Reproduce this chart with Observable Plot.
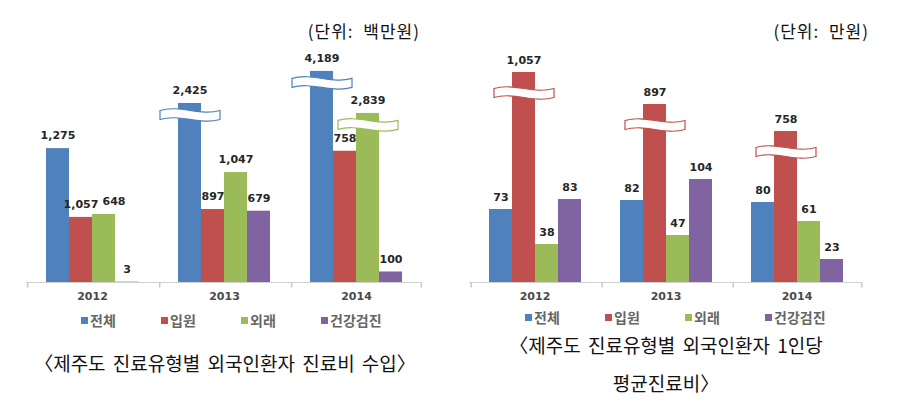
<!DOCTYPE html>
<html><head><meta charset="utf-8">
<script src="https://cdn.jsdelivr.net/npm/d3@7"></script>
<script src="https://cdn.jsdelivr.net/npm/@observablehq/plot@0.6"></script>
<style>
body{margin:0;background:#fff;}
#wrap{position:relative;width:899px;height:408px;overflow:hidden;font-family:"Noto Sans CJK KR",sans-serif;background:#fff;}
.panel{position:absolute;top:0;}
.unit{position:absolute;font-size:17px;line-height:20px;color:#111;white-space:nowrap;text-align:right;word-spacing:5px;letter-spacing:1px;}
.cap{position:absolute;font-size:19px;color:#111;text-align:center;white-space:nowrap;word-spacing:3px;}
.leg{position:absolute;}
#wrap .lg-swatches{font-family:"Noto Sans CJK KR",sans-serif;margin:0;}
#wrap .lg-swatches-wrap{display:flex;flex-wrap:nowrap;min-height:0;align-items:center;}
#wrap .lg-swatch{width:80px;margin:0;font-size:14px;font-weight:bold;color:#666;flex:none;}
#wrap .lg-swatch > svg{margin-right:2px;}
</style></head><body><div id="wrap"></div>
<script>
// ---- shared categories ----
const years = ["2012", "2013", "2014"];
const types = ["전체", "입원", "외래", "건강검진"];
const colors = ["#4F81BD", "#C0504D", "#9BBB59", "#8064A2"];

// ---- left: 진료비 수입 (단위: 백만원) — printed values ----
const revTotal = [1275, 2425, 4189];
const revInpatient = [1057, 897, 758];
const revOutpatient = [648, 1047, 2839];
const revCheckup = [3, 679, 100];
// bar lengths as drawn on the (broken) axis
const revTotalDrawn = [1275, 1705, 2010];
const revInpatientDrawn = [620, 695, 1250];
const revOutpatientDrawn = [648, 1047, 1610];
const revCheckupDrawn = [3, 679, 100];
// bars drawn with an axis-break mark
const revBroken = ["2013|전체", "2014|전체", "2014|외래"];

// ---- right: 1인당 평균진료비 (단위: 만원) — printed values ----
const avgTotal = [73, 82, 80];
const avgInpatient = [1057, 897, 758];
const avgOutpatient = [38, 47, 61];
const avgCheckup = [83, 104, 23];
const avgTotalDrawn = [73, 82, 80];
const avgInpatientDrawn = [210, 178, 151];
const avgOutpatientDrawn = [38, 47, 61];
const avgCheckupDrawn = [83, 103, 23];
const avgBroken = ["2012|입원", "2013|입원", "2014|입원"];

function buildRows(labels, drawn, broken) {
  const rows = [];
  years.forEach((y, i) => types.forEach((t, j) => rows.push({
    year: y, type: t, key: y + "|" + t, label: labels[j][i], drawn: drawn[j][i], broken: broken.includes(y + "|" + t)
  })));
  return rows;
}
const revRows = buildRows([revTotal, revInpatient, revOutpatient, revCheckup],
  [revTotalDrawn, revInpatientDrawn, revOutpatientDrawn, revCheckupDrawn], revBroken);
const avgRows = buildRows([avgTotal, avgInpatient, avgOutpatient, avgCheckup],
  [avgTotalDrawn, avgInpatientDrawn, avgOutpatientDrawn, avgCheckupDrawn], avgBroken);

const fmt = d3.format(",");
const breakSymbol = {draw(c) {
  c.moveTo(-30, -5);
  c.bezierCurveTo(-10, -11, 10, 1, 30, -5);
  c.lineTo(30, 4);
  c.bezierCurveTo(10, 10, -10, -2, -30, 4);
  c.closePath();
}};
const tickSymbol = {draw(c) { c.moveTo(0, 0); c.lineTo(0, 5); }};
const colorOf = t => colors[types.indexOf(t)];

function panel({rows, width, marginLeft, marginRight, yMax, labelDy, breakDy, shifted = []}) {
  const barW = 24;
  const groupW = (width - marginLeft - marginRight) / years.length;
  const po = (groupW / barW - types.length) / 2;
  const edge = (po + 0.5) * barW;
  const textOpts = {fx: "year", x: "type", y: "drawn", text: d => fmt(d.label), dy: labelDy, fontWeight: "bold", fontSize: 11, fontFamily: "DejaVu Sans", fill: "#262626"};
  return Plot.plot({
    width, height: 305, marginTop: 20, marginBottom: 23, marginLeft, marginRight,
    style: {background: "transparent", overflow: "visible", fontFamily: "DejaVu Sans"},
    fx: {domain: years, padding: 0, label: null},
    x: {domain: types, paddingInner: 0, paddingOuter: po, axis: null},
    y: {domain: [0, yMax], axis: null},
    color: {domain: types, range: colors},
    marks: [
      Plot.barY(rows, {fx: "year", x: "type", y: "drawn", fill: "type"}),
      Plot.ruleY([0], {stroke: "#d0d0d0", strokeWidth: 1}),
      Plot.dot(years, {fx: d => d, x: () => types[0], y: () => 0, symbol: tickSymbol, r: 3, fill: "none", stroke: "#c8c8c8", dx: -edge}),
      Plot.dot([years[years.length - 1]], {fx: d => d, x: () => types[types.length - 1], y: () => 0, symbol: tickSymbol, r: 3, fill: "none", stroke: "#c8c8c8", dx: edge}),
      Plot.dot(rows.filter(d => d.broken), {fx: "year", x: "type", y: "drawn", dy: breakDy, symbol: breakSymbol, r: 5, fill: "white", stroke: d => colorOf(d.type), strokeWidth: 1.2}),
      Plot.text(rows.filter(d => !shifted.includes(d.key)), textOpts),
      Plot.text(rows.filter(d => shifted.includes(d.key)), {...textOpts, dx: 10}),
      Plot.axisFx({anchor: "bottom", tickSize: 0, tickPadding: 10, label: null, fontSize: 11, fontWeight: "bold", fontFamily: "DejaVu Sans", fill: "#4a4a4a"})
    ]
  });
}

const wrap = document.getElementById("wrap");
function place(el, left, top, cls) {
  const d = document.createElement("div");
  d.className = cls || "panel";
  d.style.left = left + "px";
  d.style.top = top + "px";
  d.appendChild(el);
  wrap.appendChild(d);
  return d;
}

place(panel({rows: revRows, width: 450, marginLeft: 25, marginRight: 27, yMax: 2495, labelDy: -13, breakDy: 12, shifted: ["2012|외래"]}), 0, 0);
place(panel({rows: avgRows, width: 449, marginLeft: 18, marginRight: 36, yMax: 262, labelDy: -12, breakDy: 21}), 450, 0);

function legend() {
  return Plot.legend({color: {domain: types, range: colors}, legend: "swatches", swatchSize: 7, className: "lg"});
}
place(legend(), 81, 310, "leg");
place(legend(), 525, 307, "leg");

function textDiv(cls, html, left, top, width) {
  const d = document.createElement("div");
  d.className = cls;
  d.innerHTML = html;
  d.style.left = left + "px";
  d.style.top = top + "px";
  d.style.width = width + "px";
  wrap.appendChild(d);
  return d;
}
textDiv("unit", "(단위: 백만원)", 0, 21, 420);
textDiv("unit", "(단위: 만원)", 450, 21, 419);
textDiv("cap", "〈제주도 진료유형별 외국인환자 진료비 수입〉", 0, 349, 450);
const c2 = textDiv("cap", "〈제주도 진료유형별 외국인환자 1인당<br>평균진료비〉", 441, 326, 450);
c2.style.lineHeight = "38px";
</script>
</body></html>
